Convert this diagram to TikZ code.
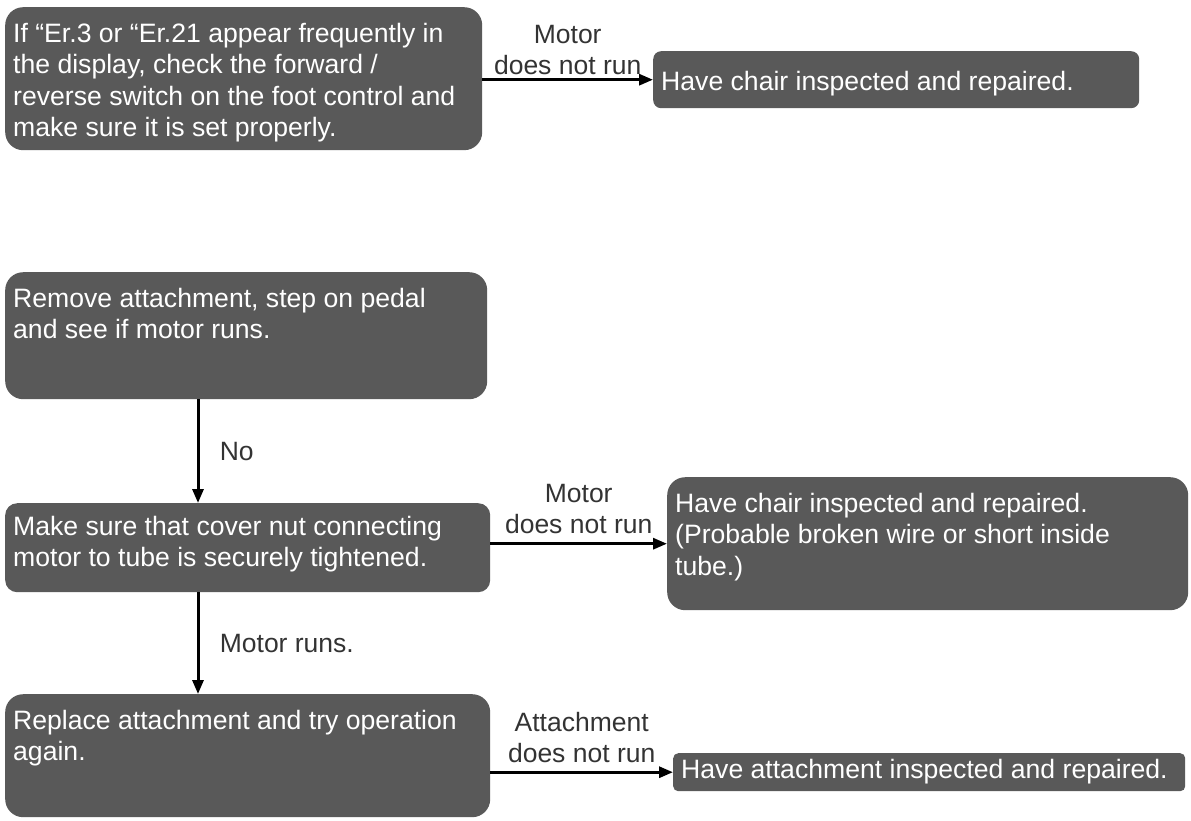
\documentclass[tikz,border=0pt]{standalone}
\usepackage{fontspec}
\setmainfont{Liberation Sans}
\usetikzlibrary{arrows.meta}

\definecolor{boxgray}{HTML}{595959}
\definecolor{labelgray}{HTML}{333333}

% text block of a box: height, width, lines (top aligned)
\newcommand{\boxtxt}[3]{\parbox[c][#1pt][t]{#2pt}{\raggedright\strut #3}}

\begin{document}
\begin{tikzpicture}[x=1pt, y=-1pt,
    box/.style={fill=boxgray, text=white, rounded corners=18pt, anchor=north west,
        inner xsep=8pt, font=\fontsize{26.6}{31.5}\selectfont},
    arr/.style={-{Triangle[length=14pt,width=11pt]}, line width=3pt},
    lbl/.style={text=labelgray, font=\fontsize{26.5}{31}\selectfont, align=center}]

    \useasboundingbox (0,0) rectangle (1191,820);

    % Boxes
    \node[box, inner ysep=13pt] (check) at (5,7)
        {\boxtxt{117}{461}{If “Er.3 or “Er.21 appear frequently in\\ the display, check the forward /\\ reverse switch on the foot control and\\ make sure it is set properly.}};
    \node[box, rounded corners=8pt, inner ysep=17pt] (chair) at (653,51)
        {\boxtxt{23}{470}{Have chair inspected and repaired.}};
    \node[box, inner ysep=13pt] (remove) at (5,272)
        {\boxtxt{101}{466}{Remove attachment, step on pedal\\ and see if motor runs.}};
    \node[box, rounded corners=12pt, inner ysep=10pt] (nut) at (5,503)
        {\boxtxt{69}{469}{Make sure that cover nut connecting\\ motor to tube is securely tightened.}};
    \node[box, inner ysep=13pt] (wire) at (667,477)
        {\boxtxt{107}{505}{Have chair inspected and repaired.\\ (Probable broken wire or short inside\\ tube.)}};
    \node[box, inner ysep=13pt] (replace) at (5,694)
        {\boxtxt{97}{469}{Replace attachment and try operation\\ again.}};
    \node[box, rounded corners=5pt, inner ysep=3pt] (attach) at (673,753)
        {\boxtxt{32}{496}{Have attachment inspected and repaired.}};

    % Arrows
    \draw[arr] (check.east |- chair.west) -- (chair.west)
        node[lbl, midway, above=0pt] {Motor\\does not run};
    \draw[arr] ([xshift=193pt]remove.south west) -- ([xshift=193pt]nut.north west)
        node[lbl, midway, right=17pt] {No};
    \draw[arr] (nut.east |- wire.west) -- (wire.west)
        node[lbl, midway, above=5pt] {Motor\\does not run};
    \draw[arr] ([xshift=193pt]nut.south west) -- ([xshift=193pt]replace.north west)
        node[lbl, midway, right=17pt] {Motor runs.};
    \draw[arr] (replace.east |- attach.west) -- (attach.west)
        node[lbl, midway, above=5pt] {Attachment\\does not run};

\end{tikzpicture}
\end{document}
